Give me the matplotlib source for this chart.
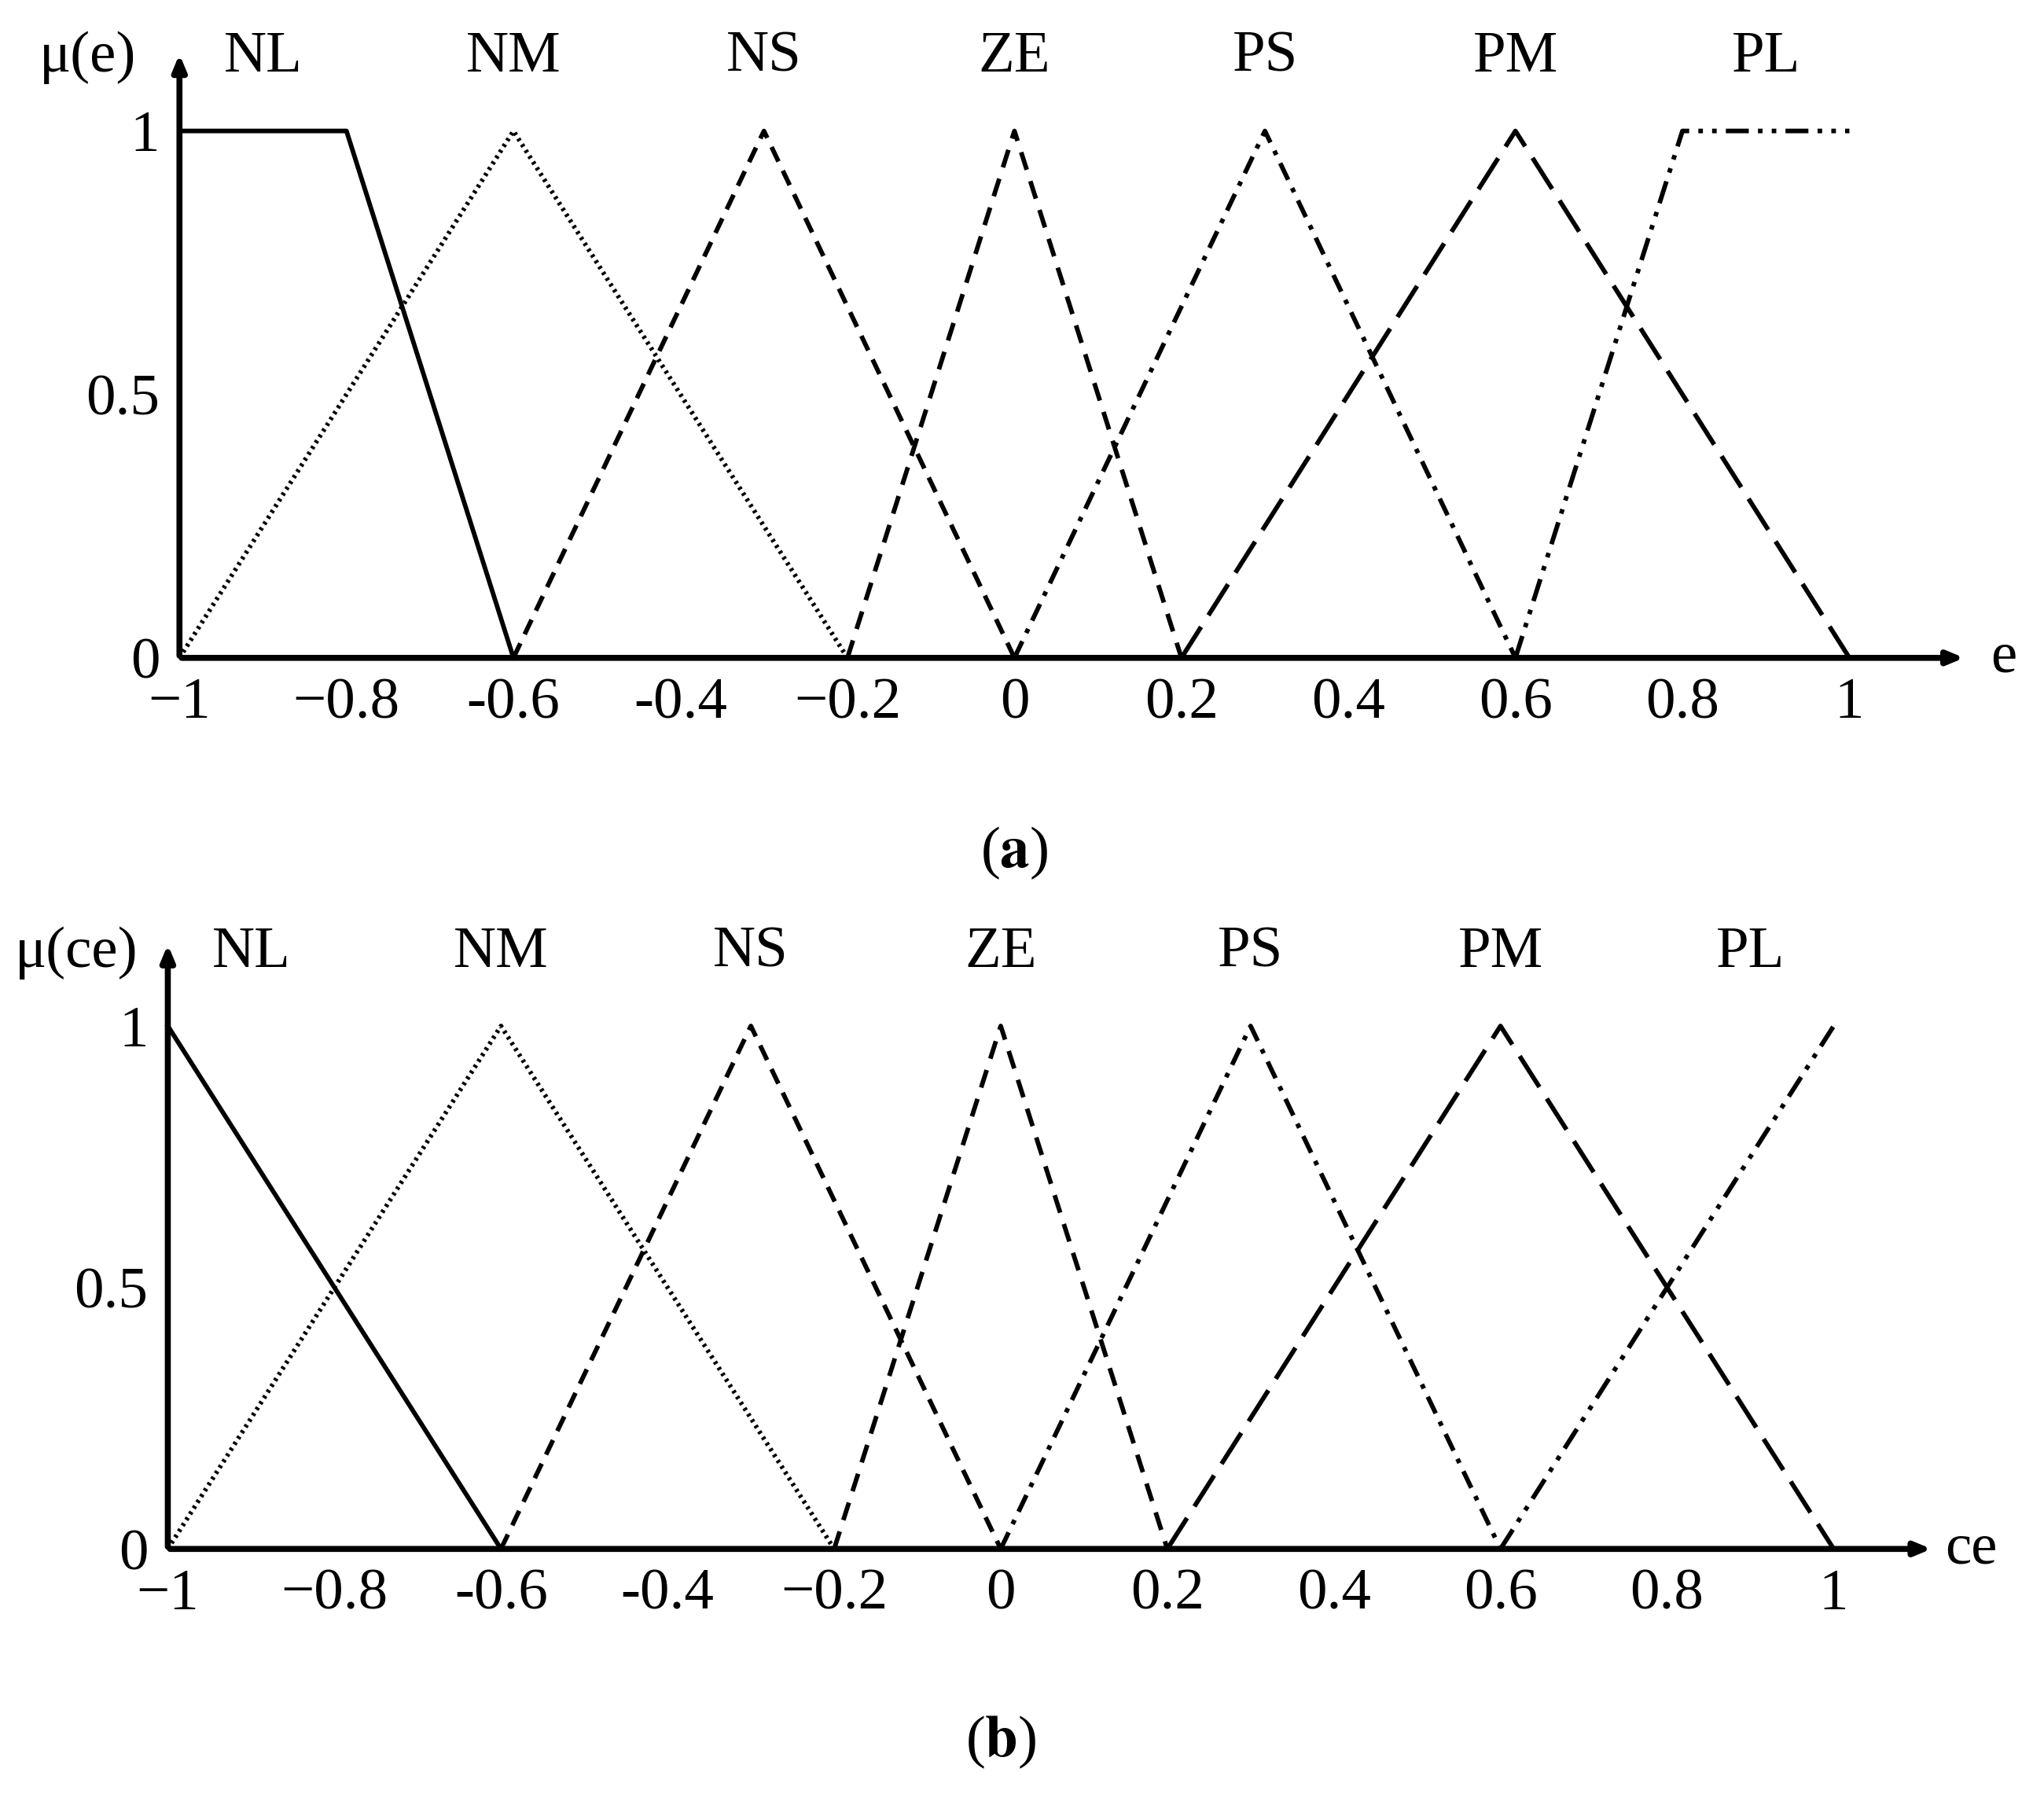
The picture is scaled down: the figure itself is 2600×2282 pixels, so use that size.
import matplotlib.pyplot as plt

plt.rcParams['font.family'] = ['Liberation Serif', 'DejaVu Serif']
plt.rcParams['mathtext.fontset'] = 'stix'

names = ["NL", "NM", "NS", "ZE", "PS", "PM", "PL"]
label_x = [-0.9, -0.6, -0.3, 0.0, 0.3, 0.6, 0.9]

# membership function breakpoints
mf_e = [
    ([-1, -0.8, -0.6], [1, 1, 0]),
    ([-1, -0.6, -0.2], [0, 1, 0]),
    ([-0.6, -0.3, 0], [0, 1, 0]),
    ([-0.2, 0, 0.2], [0, 1, 0]),
    ([0, 0.3, 0.6], [0, 1, 0]),
    ([0.2, 0.6, 1], [0, 1, 0]),
    ([0.6, 0.8, 1], [0, 1, 1]),
]
mf_ce = [
    ([-1, -0.6], [1, 0]),
    ([-1, -0.6, -0.2], [0, 1, 0]),
    ([-0.6, -0.3, 0], [0, 1, 0]),
    ([-0.2, 0, 0.2], [0, 1, 0]),
    ([0, 0.3, 0.6], [0, 1, 0]),
    ([0.2, 0.6, 1], [0, 1, 0]),
    ([0.6, 1], [0, 1]),
]
styles = [
    "-",
    (0, (0.6, 0.9)),
    (0, (3.5, 2.2)),
    (0, (4, 2.6)),
    (0, (4, 2, 1, 2)),
    (0, (8, 3)),
    (0, (5, 2, 1, 2, 1, 2)),
]

xticks = [-1, -0.8, -0.6, -0.4, -0.2, 0, 0.2, 0.4, 0.6, 0.8, 1]
xlabels_a = ["\u22121", "\u22120.8", "-0.6", "-0.4", "\u22120.2", "0", "0.2", "0.4", "0.6", "0.8", "1"]
xlabels_b = ["\u22121", "\u22120.8", "-0.6", "-0.4", "\u22120.2", "0", "0.2", "0.4", "0.6", "0.8", "1"]

fs = 54
fig = plt.figure(figsize=(26, 22.82), dpi=100)


def panel(rect, mfs, xlabels, ylab, xlab, tag, xend, yend):
    ax = fig.add_axes(rect)
    for (xs, ys), ls in zip(mfs, styles):
        ax.plot(xs, ys, color="black", lw=4.2, linestyle=ls, clip_on=False)
    ax.set_xlim(-1, 1)
    ax.set_ylim(0, 1)
    for s in ax.spines.values():
        s.set_visible(False)
    ax.set_xticks(xticks, xlabels)
    ax.set_yticks([0, 0.5, 1], ["0", "0.5", "1"])
    ax.tick_params(length=0, labelsize=fs, pad=18)
    arrow = dict(arrowstyle="-|>,head_length=1.2,head_width=0.5", lw=5.5, color="black")
    ax.annotate("", xy=(xend, 0), xytext=(-1, 0), arrowprops=arrow, annotation_clip=False)
    ax.annotate("", xy=(-1, yend), xytext=(-1, 0), arrowprops=arrow, annotation_clip=False)
    for n, x in zip(names, label_x):
        ax.text(x, 1.14, n, ha="center", va="center", fontsize=fs)
    ax.text(-1.11, 1.14, ylab, ha="center", va="center", fontsize=fs)
    ax.text(xend + 0.045, 0, xlab, ha="center", va="center", fontsize=fs)
    ax.text(0.0, -0.37, r"($\mathbf{%s}$)" % tag, ha="center", va="center", fontsize=fs)
    return ax


panel([0.0878, 0.6333, 0.817, 0.2937], mf_e, xlabels_a, "\u03bc(e)", "e", "a", 1.14, 1.15)
panel([0.0821, 0.1366, 0.815, 0.2915], mf_ce, xlabels_b, "\u03bc(ce)", "ce", "b", 1.12, 1.16)

fig.savefig("out.png", dpi=100, facecolor="white")
